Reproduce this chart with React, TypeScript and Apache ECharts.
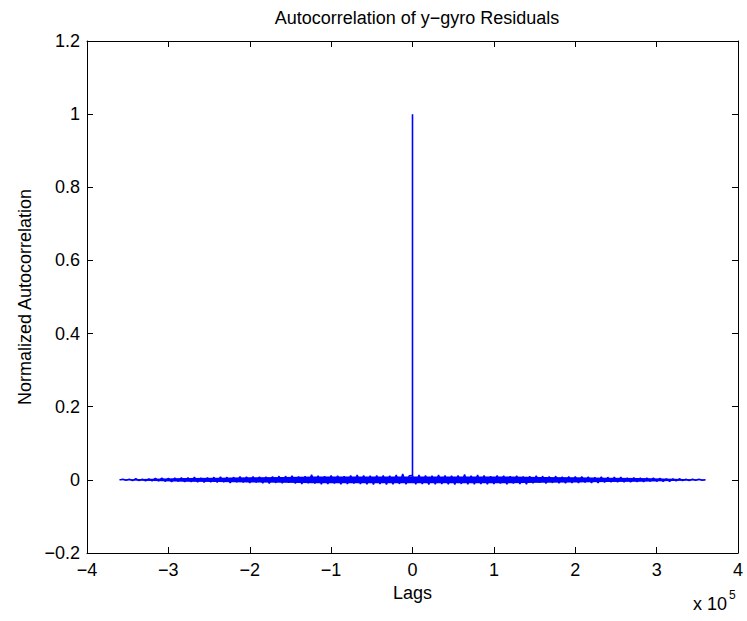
import React, { useEffect, useRef } from "react";
import * as echarts from "echarts";

const TITLE = "Autocorrelation of y\u2212gyro Residuals";
const X_NAME = "Lags";
const Y_NAME = "Normalized Autocorrelation";
const X_EXPONENT = "x 10";
const X_EXPONENT_POWER = "5";

// Noise trace: lags from -360000 to 360000, every 4000
const LAG_START = -360000;
const LAG_STEP = 4000;
const noiseValues = [
  0.000, 0.002, -0.001, 0.002, -0.002, 0.003, -0.002, 0.002, -0.003, 0.003,
  -0.003, 0.004, -0.003, 0.005, -0.004, 0.004, -0.005, 0.005, -0.004, 0.006,
  -0.005, 0.006, -0.005, 0.007, -0.006, 0.005, -0.007, 0.006, -0.006, 0.007,
  -0.007, 0.008, -0.006, 0.007, -0.008, 0.007, -0.006, 0.009, -0.007, 0.008,
  -0.008, 0.009, -0.007, 0.008, -0.009, 0.008, -0.010, 0.009, -0.008, 0.010,
  -0.009, 0.010, -0.008, 0.011, -0.010, 0.009, -0.011, 0.010, -0.009, 0.014,
  -0.010, 0.011, -0.012, 0.010, -0.011, 0.012, -0.010, 0.011, -0.012, 0.010,
  -0.011, 0.012, -0.010, 0.013, -0.011, 0.012, -0.012, 0.011, -0.013, 0.012,
  -0.011, 0.012, -0.013, 0.011, -0.012, 0.013, -0.011, 0.016, -0.012, 0.011,
  0.012,
  -0.012, 0.013, -0.011, 0.012, -0.013, 0.011, -0.012, 0.013, -0.011, 0.012,
  -0.012, 0.011, -0.013, 0.012, -0.011, 0.015, -0.012, 0.011, -0.012, 0.013,
  -0.011, 0.012, -0.012, 0.010, -0.011, 0.012, -0.010, 0.011, -0.012, 0.010,
  -0.010, 0.011, -0.011, 0.009, -0.012, 0.010, -0.009, 0.011, -0.008, 0.010,
  -0.010, 0.009, -0.008, 0.010, -0.009, 0.008, -0.009, 0.009, -0.008, 0.009,
  -0.008, 0.009, -0.007, 0.008, -0.008, 0.007, -0.008, 0.008, -0.007, 0.007,
  -0.006, 0.007, -0.006, 0.007, -0.006, 0.005, -0.006, 0.006, -0.005, 0.005,
  -0.005, 0.005, -0.004, 0.005, -0.004, 0.004, -0.004, 0.003, -0.004, 0.003,
  -0.003, 0.003, -0.002, 0.002, -0.002, 0.002, -0.001, 0.002, -0.001, 0.000,
];

// Dense core of the noise band (envelope), every 40000 lags
const ENV_START = -360000;
const ENV_STEP = 40000;
const envUpper = [
  0.001, 0.003, 0.005, 0.006, 0.007, 0.008, 0.009, 0.009, 0.009, 0.009,
  0.009, 0.009, 0.009, 0.008, 0.007, 0.006, 0.005, 0.003, 0.001,
];
const envLower = [
  -0.001, -0.003, -0.005, -0.006, -0.007, -0.008, -0.009, -0.009, -0.009, -0.009,
  -0.009, -0.009, -0.009, -0.008, -0.007, -0.006, -0.005, -0.003, -0.001,
];

// Central peak at lag 0
const spikeLags = [0, 0];
const spikeValues = [0.012, 1.0];

const X_MIN = -400000;
const X_MAX = 400000;
const X_INTERVAL = 100000;
const Y_MIN = -0.2;
const Y_MAX = 1.2;
const Y_INTERVAL = 0.2;

const FONT = "'Liberation Sans', Arial, Helvetica, sans-serif";
const FS = 18;
const BLUE = "#0000ff";

function fmtNum(v: number, digits: number): string {
  const r = Math.round(v * Math.pow(10, digits)) / Math.pow(10, digits);
  const s = String(Math.abs(r));
  return r < 0 ? "\u2212" + s : s;
}

export default function App() {
  const ref = useRef<HTMLDivElement>(null);
  useEffect(() => {
    if (!ref.current) return;
    const chart = echarts.init(ref.current, null, { renderer: "svg" });
    const noiseData = noiseValues.map((v, i) => [LAG_START + i * LAG_STEP, v]);
    const envData = envUpper.map((u, i) => [ENV_START + i * ENV_STEP, u, envLower[i]]);
    const spikeData = spikeLags.map((l, i) => [l, spikeValues[i]]);
    const axisLine = { show: true, onZero: false, lineStyle: { color: "#000", width: 1 } };
    const tick = { show: true, inside: true, length: 6, lineStyle: { color: "#000", width: 1 } };
    chart.setOption({
      animation: false,
      backgroundColor: "#fff",
      title: {
        text: TITLE,
        left: 412,
        textAlign: "center",
        top: 4,
        textStyle: { fontFamily: FONT, fontSize: FS, fontWeight: "normal", color: "#000" },
      },
      grid: { left: 87, top: 41, width: 651, height: 512, containLabel: false },
      xAxis: [
        {
          type: "value",
          min: X_MIN,
          max: X_MAX,
          interval: X_INTERVAL,
          position: "bottom",
          name: X_NAME,
          nameLocation: "middle",
          nameGap: 27,
          nameTextStyle: { fontFamily: FONT, fontSize: FS, color: "#000" },
          axisLine,
          axisTick: tick,
          splitLine: { show: false },
          axisLabel: {
            fontFamily: FONT,
            fontSize: FS,
            color: "#000",
            margin: 8,
            formatter: (v: number) => fmtNum(v / 100000, 0),
          },
        },
        {
          type: "value",
          min: X_MIN,
          max: X_MAX,
          interval: X_INTERVAL,
          position: "top",
          axisLine,
          axisTick: tick,
          splitLine: { show: false },
          axisLabel: { show: false },
        },
      ],
      yAxis: [
        {
          type: "value",
          min: Y_MIN,
          max: Y_MAX,
          interval: Y_INTERVAL,
          position: "left",
          name: Y_NAME,
          nameLocation: "middle",
          nameGap: 52,
          nameTextStyle: { fontFamily: FONT, fontSize: FS, color: "#000" },
          axisLine,
          axisTick: tick,
          splitLine: { show: false },
          axisLabel: {
            fontFamily: FONT,
            fontSize: FS,
            color: "#000",
            margin: 7,
            formatter: (v: number) => fmtNum(v, 1),
          },
        },
        {
          type: "value",
          min: Y_MIN,
          max: Y_MAX,
          interval: Y_INTERVAL,
          position: "right",
          axisLine,
          axisTick: tick,
          splitLine: { show: false },
          axisLabel: { show: false },
        },
      ],
      series: [
        {
          type: "custom",
          data: envData,
          silent: true,
          encode: { x: 0, y: [1, 2] },
          renderItem: (params: any, api: any) => {
            if (params.dataIndex !== 0) return null;
            const pts: number[][] = [];
            for (let i = 0; i < envData.length; i++) {
              pts.push(api.coord([envData[i][0], envData[i][1]]));
            }
            for (let i = envData.length - 1; i >= 0; i--) {
              pts.push(api.coord([envData[i][0], envData[i][2]]));
            }
            return {
              type: "polygon",
              shape: { points: pts },
              style: { fill: BLUE, stroke: "none" },
            };
          },
        },
        {
          type: "line",
          data: noiseData,
          showSymbol: false,
          symbol: "none",
          lineStyle: { color: BLUE, width: 1.5 },
          silent: true,
        },
        {
          type: "line",
          data: spikeData,
          showSymbol: false,
          symbol: "none",
          lineStyle: { color: BLUE, width: 1.6 },
          silent: true,
        },
      ],
      graphic: [
        {
          type: "text",
          left: 693,
          top: 595,
          style: { text: X_EXPONENT, fontFamily: FONT, fontSize: FS, fill: "#000" },
        },
        {
          type: "text",
          left: 729,
          top: 589,
          style: { text: X_EXPONENT_POWER, fontFamily: FONT, fontSize: 12, fill: "#000" },
        },
      ],
    });
    return () => chart.dispose();
  }, []);
  return (
    <div
      ref={ref}
      style={{ position: "fixed", left: 0, top: 0, width: 747, height: 621 }}
    />
  );
}
